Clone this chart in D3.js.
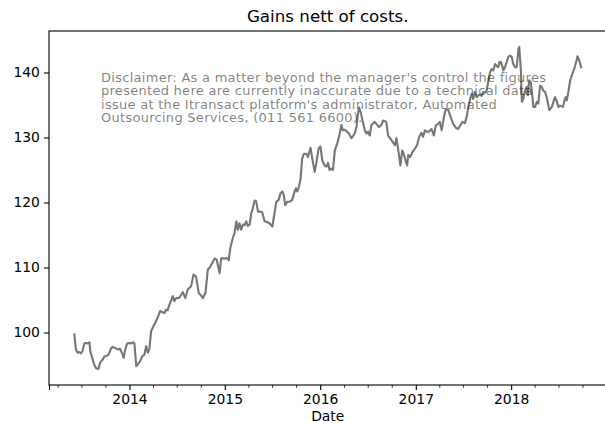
<!DOCTYPE html>
<html><head><meta charset="utf-8">
<script src="https://cdn.jsdelivr.net/npm/d3@7"></script>
<style>
html,body{margin:0;padding:0;background:#fff;}
svg{display:block;font-family:"DejaVu Sans",sans-serif;}
</style></head>
<body><svg id="c" width="605" height="423"></svg>
<script>
const titleText = "Gains nett of costs.";
const xLabel = "Date";
const yTicks = [100, 110, 120, 130, 140];
const yearTicks = ["2014", "2015", "2016", "2017", "2018"];
const disclaimerLines = [
  "Disclaimer: As a matter beyond the manager's control the figures",
  "presented here are currently inaccurate due to a technical data",
  "issue at the Itransact platform's administrator, Automated",
  "Outsourcing Services, (011 561 6600)."
];
const dates = [
"2013-06-04","2013-06-10","2013-06-16","2013-06-23","2013-06-29","2013-07-05","2013-07-12","2013-07-19","2013-07-25","2013-08-01",
"2013-08-04","2013-08-10","2013-08-19","2013-08-26","2013-09-04","2013-09-11","2013-09-20","2013-09-27","2013-10-05","2013-10-13",
"2013-10-22","2013-10-28","2013-11-08","2013-11-17","2013-11-26","2013-12-06","2013-12-10","2013-12-16","2013-12-23","2014-01-01",
"2014-01-07","2014-01-14","2014-01-20","2014-01-27","2014-02-02","2014-02-11","2014-02-18","2014-02-27","2014-03-06","2014-03-12",
"2014-03-18","2014-03-25","2014-04-03","2014-04-10","2014-04-19","2014-04-28","2014-05-08","2014-05-15","2014-05-21","2014-05-27",
"2014-06-03","2014-06-16","2014-06-22","2014-06-29","2014-07-09","2014-07-18","2014-07-24","2014-08-03","2014-08-12","2014-08-25",
"2014-09-03","2014-09-13","2014-09-23","2014-10-02","2014-10-09","2014-10-19","2014-10-28","2014-11-06","2014-11-14","2014-11-23",
"2014-12-01","2014-12-12","2014-12-18","2014-12-31","2015-01-13","2015-01-16","2015-01-22","2015-01-30","2015-02-07","2015-02-14",
"2015-02-20","2015-02-26","2015-03-05","2015-03-11","2015-03-17","2015-03-24","2015-03-30","2015-04-06","2015-04-12","2015-04-18",
"2015-04-25","2015-05-01","2015-05-08","2015-05-17","2015-05-24","2015-06-02","2015-06-11","2015-06-21","2015-07-02","2015-07-10",
"2015-07-17","2015-07-26","2015-08-02","2015-08-09","2015-08-15","2015-08-20","2015-08-28","2015-09-06","2015-09-16","2015-09-25",
"2015-10-01","2015-10-05","2015-10-11","2015-10-18","2015-10-24","2015-10-31","2015-11-09","2015-11-15","2015-11-25","2015-12-02",
"2015-12-11","2015-12-17","2015-12-26","2016-01-02","2016-01-09","2016-01-18","2016-01-25","2016-01-31","2016-02-06","2016-02-13",
"2016-02-19","2016-02-26","2016-03-06","2016-03-16","2016-03-22","2016-03-28","2016-04-04","2016-04-10","2016-04-20","2016-04-30",
"2016-05-06","2016-05-12","2016-05-19","2016-05-25","2016-05-29","2016-06-04","2016-06-11","2016-06-20","2016-06-26","2016-07-02",
"2016-07-09","2016-07-15","2016-07-28","2016-08-03","2016-08-13","2016-08-22","2016-08-29","2016-09-10","2016-09-17","2016-09-30",
"2016-10-13","2016-10-19","2016-10-25","2016-11-03","2016-11-10","2016-11-17","2016-11-24","2016-11-29","2016-12-03","2016-12-10",
"2016-12-20","2016-12-29","2017-01-06","2017-01-14","2017-01-23","2017-01-29","2017-02-05","2017-02-11","2017-02-21","2017-03-02",
"2017-03-11","2017-03-19","2017-03-28","2017-04-03","2017-04-10","2017-04-19","2017-04-26","2017-05-05","2017-05-14","2017-05-24",
"2017-06-03","2017-06-12","2017-06-21","2017-06-29","2017-07-08","2017-07-15","2017-07-21","2017-07-27","2017-08-03","2017-08-09",
"2017-08-15","2017-08-22","2017-09-01","2017-09-10","2017-09-16","2017-09-23","2017-09-29","2017-10-05","2017-10-12","2017-10-18",
"2017-10-25","2017-10-31","2017-11-07","2017-11-13","2017-11-17","2017-11-23","2017-11-28","2017-12-02","2017-12-08","2017-12-15",
"2017-12-21","2017-12-28","2018-01-03","2018-01-09","2018-01-16","2018-01-22","2018-01-29","2018-02-01","2018-02-07","2018-02-11",
"2018-02-17","2018-02-23","2018-03-02","2018-03-06","2018-03-11","2018-03-17","2018-03-21","2018-03-27","2018-04-03","2018-04-09",
"2018-04-15","2018-04-22","2018-04-28","2018-05-04","2018-05-11","2018-05-17","2018-05-27","2018-06-06","2018-06-12","2018-06-18",
"2018-06-25","2018-07-01","2018-07-07","2018-07-18","2018-07-24","2018-07-29","2018-08-02","2018-08-08","2018-08-15","2018-08-21",
"2018-08-30","2018-09-07","2018-09-12","2018-09-19","2018-09-26"
];
const values = [
99.7,97.4,96.9,97.0,96.8,97.1,98.3,98.4,98.3,98.5,
97.1,96.3,95.1,94.5,94.4,95.4,95.8,96.3,96.4,96.6,
97.5,97.8,97.6,97.4,97.5,96.6,96.1,97.4,98.3,98.4,
98.3,98.5,98.3,94.8,95.1,95.6,96.3,96.6,97.9,96.9,
97.4,100.2,101.0,101.5,102.3,103.3,103.1,103.0,103.5,103.4,
104.3,105.6,104.8,105.3,105.3,105.8,106.2,105.3,106.6,107.1,
108.9,108.6,106.1,105.7,105.3,106.1,109.7,110.1,110.7,111.4,
111.2,109.1,111.4,111.4,111.4,111.1,113.0,114.3,115.3,117.1,
115.8,116.8,115.8,116.6,116.5,117.1,116.4,116.6,118.3,119.1,
120.3,120.2,118.6,118.6,118.5,117.1,117.0,116.8,116.3,118.3,
120.1,120.4,121.4,121.7,121.1,119.6,120.1,120.1,120.4,121.7,
122.2,121.7,122.3,123.7,126.7,127.5,127.5,127.0,128.4,126.7,
124.7,126.0,128.3,128.6,126.5,125.7,125.5,126.1,125.0,125.2,
125.0,128.0,129.0,130.6,131.9,131.1,131.2,131.0,130.6,129.9,
130.2,130.6,131.6,133.7,134.6,133.9,132.6,131.1,130.6,130.9,
130.3,131.9,132.4,132.1,131.6,131.9,132.6,132.4,130.3,129.6,
128.8,129.9,128.3,125.7,128.0,127.3,126.3,125.7,127.3,127.0,
127.8,128.3,128.8,130.1,130.7,130.1,131.1,130.9,130.9,131.3,
130.3,131.9,132.1,132.4,131.1,133.2,134.4,134.2,133.2,132.1,
131.5,131.3,131.9,132.4,132.2,133.2,134.7,135.8,136.7,135.9,
137.0,136.2,136.6,136.4,137.0,136.9,137.2,138.5,140.0,140.5,
140.3,141.3,141.0,140.8,141.6,141.6,141.0,140.3,140.8,141.6,
142.4,142.6,142.4,141.3,140.8,140.8,143.6,143.9,140.5,135.5,
136.0,137.2,137.8,136.5,138.8,138.5,137.2,134.7,134.7,135.5,
135.2,138.0,137.8,137.2,137.0,136.2,134.2,134.7,135.5,136.2,
135.5,134.7,134.9,134.7,135.7,136.2,135.7,137.0,138.8,139.5,
140.5,141.6,142.5,141.8,140.8
];

const parse = d3.timeParse("%Y-%m-%d");
const series = dates.map((d, i) => ({date: parse(d), value: values[i]}));

const svg = d3.select("#c");
const m = {left: 49, top: 31, right: 606.5, bottom: 385};

// 5% margins like matplotlib
const xe = d3.extent(series, d => +d.date);
const xpad = (xe[1] - xe[0]) * 0.05;
const x = d3.scaleTime().domain([new Date(xe[0] - xpad), new Date(xe[1] + xpad)]).range([m.left, m.right]);
const ye = d3.extent(values);
const ypad = (ye[1] - ye[0]) * 0.05;
const y = d3.scaleLinear().domain([ye[0] - ypad, ye[1] + ypad]).range([m.bottom, m.top]);

// line
svg.append("path")
  .datum(series)
  .attr("fill", "none")
  .attr("stroke", "#767676")
  .attr("stroke-width", 2.1)
  .attr("stroke-linejoin", "round")
  .attr("stroke-linecap", "square")
  .attr("d", d3.line().x(d => x(d.date)).y(d => y(d.value)));

// disclaimer text
const dt = svg.append("text")
  .attr("x", 101).attr("y", 81.5)
  .attr("font-size", 13)
  .attr("letter-spacing", 0.28)
  .attr("fill", "#000").attr("fill-opacity", 0.5);
disclaimerLines.forEach((t, i) => {
  dt.append("tspan").attr("x", 101).attr("y", 81.6 + i * 13.6).text(t);
});

// spines
svg.append("rect")
  .attr("x", m.left).attr("y", m.top)
  .attr("width", m.right - m.left).attr("height", m.bottom - m.top)
  .attr("fill", "none").attr("stroke", "#000").attr("stroke-width", 1.1);

// y axis
const yAxis = d3.axisLeft(y).tickValues(yTicks).tickSize(4.9).tickPadding(4.2).tickFormat(d3.format("d"));
const gy = svg.append("g").attr("transform", `translate(${m.left},0)`).call(yAxis);
gy.select(".domain").remove();
gy.selectAll("text").attr("font-size", 13.9).attr("font-family", "DejaVu Sans").attr("fill", "#000");
gy.selectAll("line").attr("stroke", "#000").attr("stroke-width", 1.1);

// x axis: major year ticks, minor quarter ticks, edge ticks
const xd = x.domain();
const yearDates = yearTicks.map(yr => d3.timeParse("%Y")(yr));
const majors = [xd[0], ...yearDates, xd[1]];
const gx = svg.append("g").attr("transform", `translate(0,${m.bottom})`);
gx.call(d3.axisBottom(x).tickValues(majors).tickSize(4.9).tickPadding(4.6)
  .tickFormat(d => yearDates.some(v => +v === +d) ? d3.timeFormat("%Y")(d) : ""));
gx.select(".domain").remove();
gx.selectAll("text").attr("font-size", 13.9).attr("font-family", "DejaVu Sans").attr("fill", "#000");
gx.selectAll("line").attr("stroke", "#000").attr("stroke-width", 1.1);
const minors = d3.timeMonth.every(3).range(xd[0], xd[1]).filter(d => d.getMonth() !== 0);
const gm = svg.append("g").attr("transform", `translate(0,${m.bottom})`);
gm.call(d3.axisBottom(x).tickValues(minors).tickSize(2.8).tickFormat(""));
gm.select(".domain").remove();
gm.selectAll("line").attr("stroke", "#000").attr("stroke-width", 0.8);

// labels
svg.append("text").attr("x", (m.left + m.right) / 2).attr("y", 421)
  .attr("text-anchor", "middle").attr("font-size", 13.9).text(xLabel);
svg.append("text").attr("x", (m.left + m.right) / 2).attr("y", 22)
  .attr("text-anchor", "middle").attr("font-size", 16.7).text(titleText);
</script></body></html>
